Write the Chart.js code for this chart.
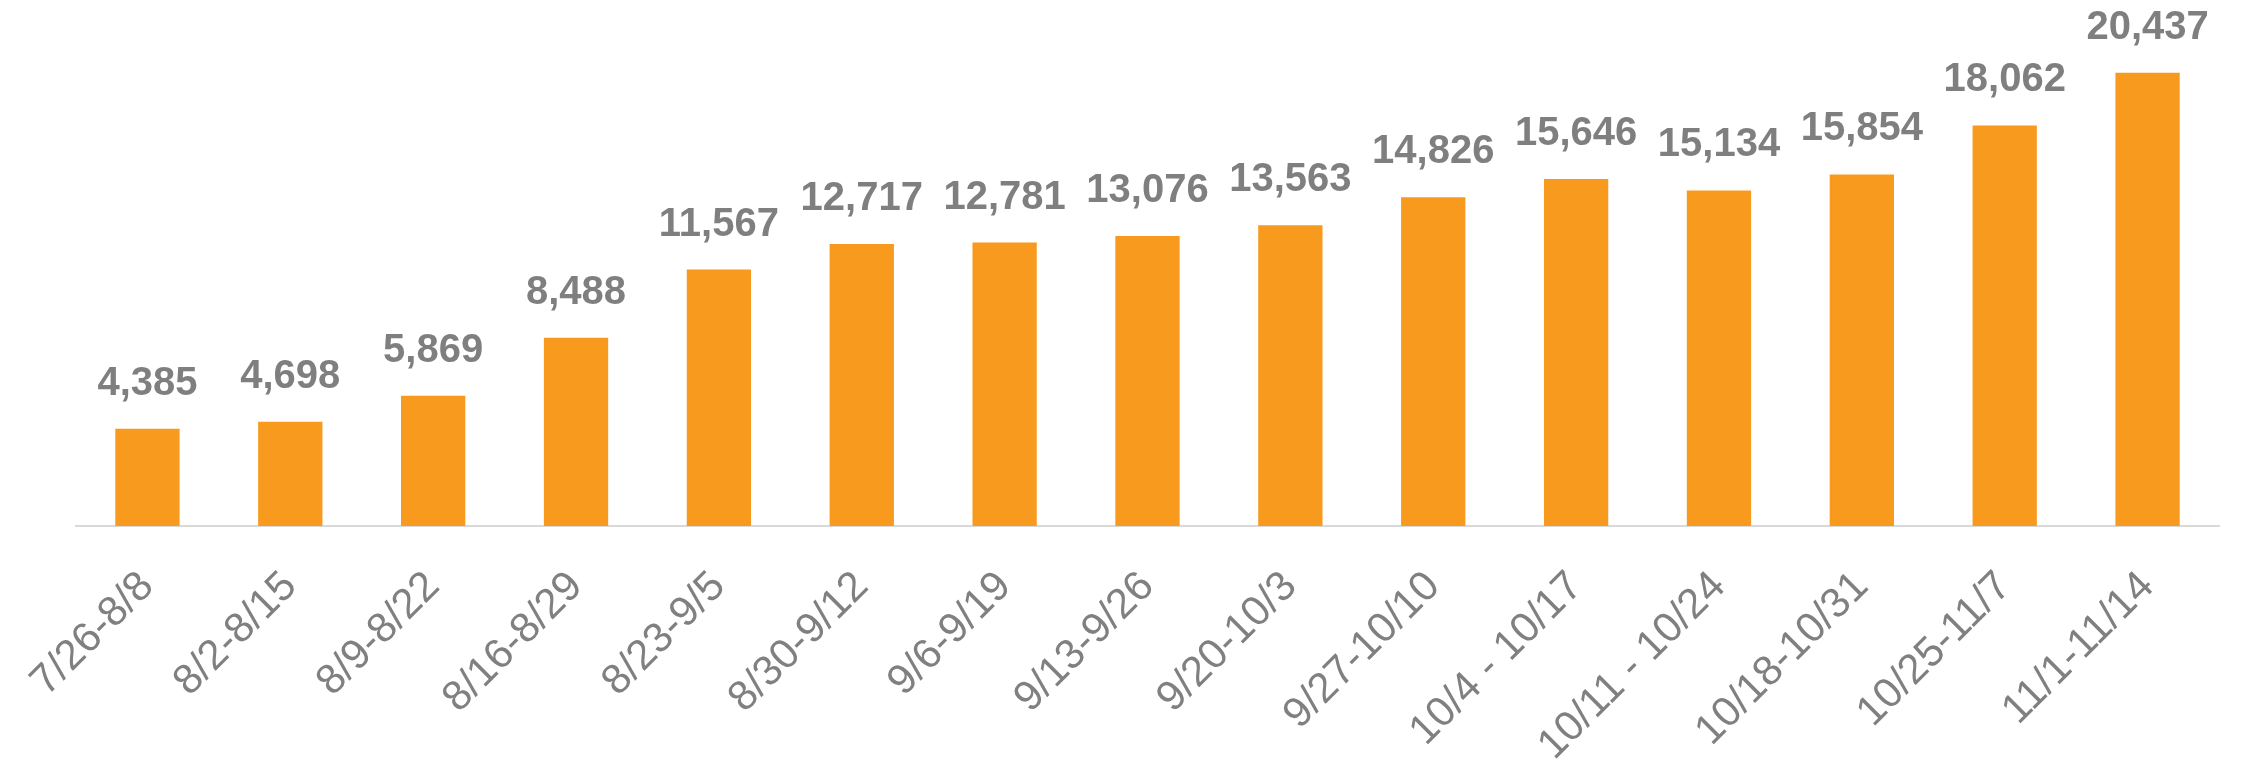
<!DOCTYPE html>
<html>
<head>
<meta charset="utf-8">
<title>Weekly Totals</title>
<script src="https://cdn.jsdelivr.net/npm/chart.js@4.4.0/dist/chart.umd.min.js"></script>
<style>
    html, body { margin: 0; padding: 0; background: #FFFFFF; }
    #chartBox { width: 2244px; height: 780px; position: relative; }
</style>
</head>
<body>
<div id="chartBox"><canvas id="weeklyChart"></canvas></div>
<script>
// --- DATA ---
const weekLabels = [
    '7/26-8/8', '8/2-8/15', '8/9-8/22', '8/16-8/29', '8/23-9/5',
    '8/30-9/12', '9/6-9/19', '9/13-9/26', '9/20-10/3', '9/27-10/10',
    '10/4 - 10/17', '10/11 - 10/24', '10/18-10/31', '10/25-11/7', '11/1-11/14'
];
const weekTotals = [
    4385, 4698, 5869, 8488, 11567,
    12717, 12781, 13076, 13563, 14826,
    15646, 15134, 15854, 18062, 20437
];

// --- PLUGIN KECIL UNTUK LABEL NILAI DI ATAS BATANG ---
const valueLabels = {
    id: 'valueLabels',
    afterDatasetsDraw(chart) {
        const ctx = chart.ctx;
        const meta = chart.getDatasetMeta(0);
        ctx.save();
        ctx.font = 'bold 40px "Liberation Sans", Arial, sans-serif';
        ctx.fillStyle = '#7F7F7F';
        ctx.textAlign = 'center';
        ctx.textBaseline = 'alphabetic';
        meta.data.forEach((bar, i) => {
            const value = chart.data.datasets[0].data[i];
            ctx.fillText(value.toLocaleString('en-US'), bar.x, bar.y - 34);
        });
        ctx.restore();
    }
};

// --- RENDER GRAFIK ---
function renderChart() {
    const ctx = document.getElementById('weeklyChart').getContext('2d');
    window.weeklyChart = new Chart(ctx, {
        type: 'bar',
        data: {
            labels: weekLabels,
            datasets: [{
                data: weekTotals,
                backgroundColor: '#F79A1E',
                borderWidth: 0,
                barPercentage: 0.45,
                categoryPercentage: 1
            }]
        },
        options: {
            responsive: true,
            maintainAspectRatio: false,
            animation: false,
            layout: { padding: { left: 76, right: 25, top: 16, bottom: 0 } },
            plugins: {
                legend: { display: false },
                tooltip: { enabled: false }
            },
            scales: {
                x: {
                    grid: { display: false },
                    border: { display: true, color: '#D9D9D9', width: 2 },
                    ticks: {
                        autoSkip: false,
                        maxRotation: 45,
                        minRotation: 45,
                        padding: 28,
                        color: '#808080',
                        font: { family: '"Liberation Sans", Arial, sans-serif', size: 42 }
                    },
                    afterFit: (scale) => { scale.height = 254; }
                },
                y: {
                    display: false,
                    min: 0,
                    max: 23000
                }
            }
        },
        plugins: [valueLabels]
    });
}

document.addEventListener('DOMContentLoaded', renderChart);
</script>
</body>
</html>
